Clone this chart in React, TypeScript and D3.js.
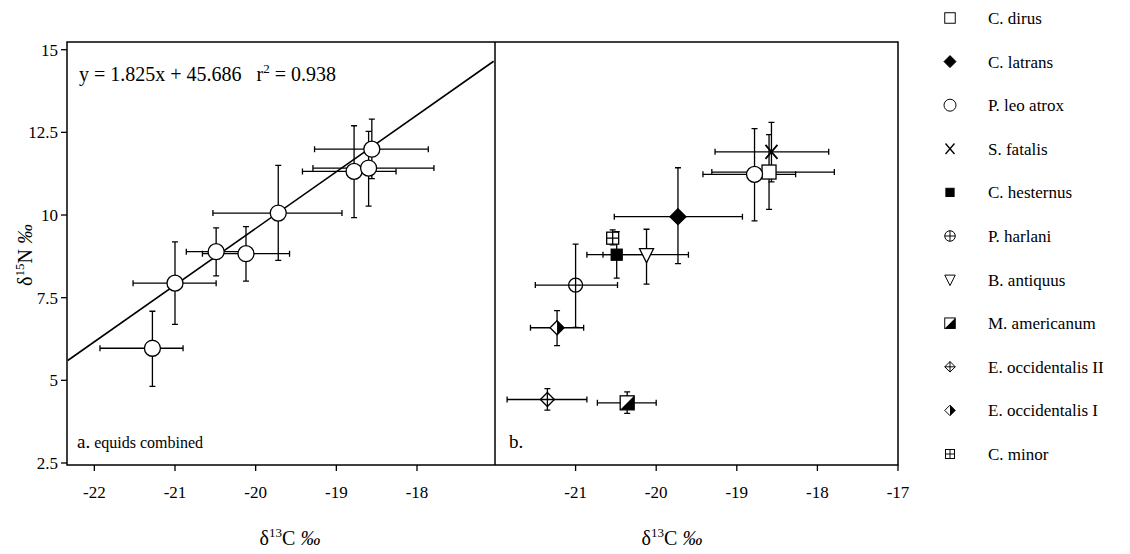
import React from "react";
import * as d3 from "d3";

const equidsA = [
  { x: -21.28, y: 5.97, x0: -21.93, x1: -20.9, y0: 4.82, y1: 7.09 },
  { x: -21.0, y: 7.94, x0: -21.52, x1: -20.49, y0: 6.69, y1: 9.19 },
  { x: -20.49, y: 8.89, x0: -20.86, x1: -20.1, y0: 8.16, y1: 9.61 },
  { x: -20.12, y: 8.83, x0: -20.66, x1: -19.58, y0: 8.0, y1: 9.65 },
  { x: -19.72, y: 10.06, x0: -20.53, x1: -18.93, y0: 8.63, y1: 11.5 },
  { x: -18.78, y: 11.32, x0: -19.42, x1: -18.26, y0: 9.92, y1: 12.7 },
  { x: -18.6, y: 11.42, x0: -19.29, x1: -17.79, y0: 10.27, y1: 12.53 },
  { x: -18.56, y: 11.99, x0: -19.27, x1: -17.86, y0: 11.1, y1: 12.9 },
];

const speciesB = [
  { name: "C. dirus", sym: "square", x: -18.6, y: 11.3, x0: -19.31, x1: -17.79, y0: 10.17, y1: 12.43 },
  { name: "C. latrans", sym: "diamondFill", x: -19.73, y: 9.95, x0: -20.52, x1: -18.93, y0: 8.53, y1: 11.43 },
  { name: "P. leo atrox", sym: "circle", x: -18.78, y: 11.23, x0: -19.42, x1: -18.27, y0: 9.82, y1: 12.61 },
  { name: "S. fatalis", sym: "cross", x: -18.57, y: 11.91, x0: -19.27, x1: -17.86, y0: 11.0, y1: 12.8 },
  { name: "C. hesternus", sym: "squareFill", x: -20.49, y: 8.8, x0: -20.86, x1: -20.1, y0: 8.09, y1: 9.5 },
  { name: "P. harlani", sym: "circlePlus", x: -21.0, y: 7.88, x0: -21.5, x1: -20.48, y0: 6.6, y1: 9.12 },
  { name: "B. antiquus", sym: "triangle", x: -20.12, y: 8.8, x0: -20.66, x1: -19.6, y0: 7.91, y1: 9.57 },
  { name: "M. americanum", sym: "squareHalf", x: -20.36, y: 4.32, x0: -20.73, x1: -20.0, y0: 4.0, y1: 4.65 },
  { name: "E. occidentalis II", sym: "diamondPlus", x: -21.35, y: 4.42, x0: -21.85, x1: -20.86, y0: 4.1, y1: 4.75 },
  { name: "E. occidentalis I", sym: "diamondHalf", x: -21.23, y: 6.59, x0: -21.56, x1: -20.9, y0: 6.05, y1: 7.11 },
  { name: "C. minor", sym: "squarePlus", x: -20.54, y: 9.3, x0: -20.54, x1: -20.54, y0: 9.1, y1: 9.55 },
];

const yTicks = [2.5, 5, 7.5, 10, 12.5, 15];
const xTicksA = [-22, -21, -20, -19, -18];
const xTicksB = [-21, -20, -19, -18, -17];
const regLine = [{ x: -22.33, y: 5.6 }, { x: -17.05, y: 14.65 }];

const FONT = "'Liberation Serif', 'DejaVu Serif', serif";

function Marker({ sym, cx, cy, k = 1 }: { sym: string; cx: number; cy: number; k?: number }) {
  const st = { stroke: "#000", strokeWidth: 1.3 };
  const s = 7 * k;
  let el: any = null;
  switch (sym) {
    case "square":
      el = <rect x={-7} y={-7} width={14} height={14} fill="#fff" {...st} />; break;
    case "squareFill":
      el = <rect x={-5.5} y={-5.5} width={11} height={11} fill="#000" {...st} />; break;
    case "squareHalf":
      el = (
        <g>
          <rect x={-7} y={-7} width={14} height={14} fill="#fff" {...st} />
          <path d="M7,-7L7,7L-7,7Z" fill="#000" />
        </g>
      ); break;
    case "squarePlus":
      el = (
        <g {...st}>
          <rect x={-6} y={-6} width={12} height={12} fill="#fff" />
          <path d="M-6,0H6M0,-6V6" fill="none" />
        </g>
      ); break;
    case "circle":
      el = <circle r={8} fill="#fff" {...st} />; break;
    case "circlePlus":
      el = (
        <g {...st}>
          <circle r={7} fill="#fff" />
          <path d="M-7,0H7M0,-7V7" fill="none" />
        </g>
      ); break;
    case "cross":
      el = <path d="M-6,-7L6,7M-6,7L6,-7" stroke="#000" strokeWidth={1.8} fill="none" />; break;
    case "triangle":
      el = <path d="M-7,-6L7,-6L0,8Z" fill="#fff" {...st} />; break;
    case "diamondFill":
      el = <path d="M0,-8L8,0L0,8L-8,0Z" fill="#000" {...st} />; break;
    case "diamondHalf":
      el = (
        <g>
          <path d="M0,-7L7,0L0,7L-7,0Z" fill="#fff" {...st} />
          <path d="M0,-7L7,0L0,7Z" fill="#000" />
        </g>
      ); break;
    case "diamondPlus":
      el = (
        <g {...st}>
          <path d="M0,-7L7,0L0,7L-7,0Z" fill="#fff" />
          <path d="M-7,0H7M0,-7V7" fill="none" />
        </g>
      ); break;
  }
  void s;
  return <g transform={`translate(${cx},${cy}) scale(${k})`}>{el}</g>;
}

function ErrBars({ d, xs, ys }: any) {
  const c = 3;
  const px = xs(d.x), py = ys(d.y);
  return (
    <g stroke="#000" strokeWidth={1.3} fill="none">
      {d.x1 > d.x0 && (
        <path d={`M${xs(d.x0)},${py}H${xs(d.x1)}M${xs(d.x0)},${py - c}V${py + c}M${xs(d.x1)},${py - c}V${py + c}`} />
      )}
      <path d={`M${px},${ys(d.y0)}V${ys(d.y1)}M${px - c},${ys(d.y0)}H${px + c}M${px - c},${ys(d.y1)}H${px + c}`} />
    </g>
  );
}

export default function App() {
  const top = 42, bottom = 465;
  const y = d3.scaleLinear().domain([2.5, 15]).range([463, 49.7]);
  const xa = d3.scaleLinear().domain([-21, -18]).range([175, 417]);
  const xb = d3.scaleLinear().domain([-22, -17]).range([495, 898]);
  const left = 67, mid = 495, right = 898;
  const line = d3.line<{ x: number; y: number }>().x((d) => xa(d.x)).y((d) => y(d.y));
  const legendY = (i: number) => 18 + i * 43.6;

  return (
    <svg width={1130} height={554} style={{ position: "absolute", left: 0, top: 0, background: "#fff" }} fontFamily={FONT}>
      <defs>
        <clipPath id="ca"><rect x={left} y={top} width={mid - left} height={bottom - top} /></clipPath>
      </defs>
      <rect x={left} y={top} width={right - left} height={bottom - top} fill="none" stroke="#000" strokeWidth={1.5} />
      <line x1={mid} x2={mid} y1={top} y2={bottom} stroke="#000" strokeWidth={1.5} />

      {yTicks.map((t) => (
        <g key={t}>
          <line x1={left - 6} x2={left} y1={y(t)} y2={y(t)} stroke="#000" strokeWidth={1.3} />
          <text x={left - 9} y={y(t) + 6} textAnchor="end" fontSize={17}>{t}</text>
        </g>
      ))}
      {xTicksA.map((t) => (
        <g key={"a" + t}>
          <line x1={xa(t)} x2={xa(t)} y1={bottom} y2={bottom + 6} stroke="#000" strokeWidth={1.3} />
          <text x={xa(t)} y={bottom + 33} textAnchor="middle" fontSize={17}>{t}</text>
        </g>
      ))}
      {xTicksB.map((t) => (
        <g key={"b" + t}>
          <line x1={xb(t)} x2={xb(t)} y1={bottom} y2={bottom + 6} stroke="#000" strokeWidth={1.3} />
          <text x={xb(t)} y={bottom + 33} textAnchor="middle" fontSize={17}>{t}</text>
        </g>
      ))}

      <path d={line(regLine) || ""} stroke="#000" strokeWidth={1.6} fill="none" clipPath="url(#ca)" />
      {equidsA.map((d, i) => <ErrBars key={i} d={d} xs={xa} ys={y} />)}
      {equidsA.map((d, i) => <Marker key={i} sym="circle" cx={xa(d.x)} cy={y(d.y)} />)}

      {speciesB.map((d, i) => <ErrBars key={i} d={d} xs={xb} ys={y} />)}
      {speciesB.map((d, i) => <Marker key={i} sym={d.sym} cx={xb(d.x)} cy={y(d.y)} />)}

      <text x={79} y={81} fontSize={20}>
        y = 1.825x + 45.686{"\u00a0\u00a0\u00a0"}r<tspan dy={-8} fontSize={13}>2</tspan><tspan dy={8}> = 0.938</tspan>
      </text>
      <text x={77} y={448} fontSize={19}>a.<tspan fontSize={16}> equids combined</tspan></text>
      <text x={509} y={448} fontSize={19}>b.</text>

      <text x={290} y={545} textAnchor="middle" fontSize={20}>
        δ<tspan dy={-8} fontSize={13}>13</tspan><tspan dy={8}>C </tspan><tspan fontStyle="italic">‰</tspan>
      </text>
      <text x={672} y={545} textAnchor="middle" fontSize={20}>
        δ<tspan dy={-8} fontSize={13}>13</tspan><tspan dy={8}>C </tspan><tspan fontStyle="italic">‰</tspan>
      </text>
      <text transform="translate(32,255) rotate(-90)" textAnchor="middle" fontSize={20}>
        δ<tspan dy={-8} fontSize={13}>15</tspan><tspan dy={8}>N </tspan><tspan fontStyle="italic">‰</tspan>
      </text>

      {speciesB.map((d, i) => (
        <g key={d.name}>
          <Marker sym={d.sym} cx={950} cy={legendY(i)} k={0.75} />
          <text x={988} y={legendY(i) + 6} fontSize={17}>{d.name}</text>
        </g>
      ))}
    </svg>
  );
}
